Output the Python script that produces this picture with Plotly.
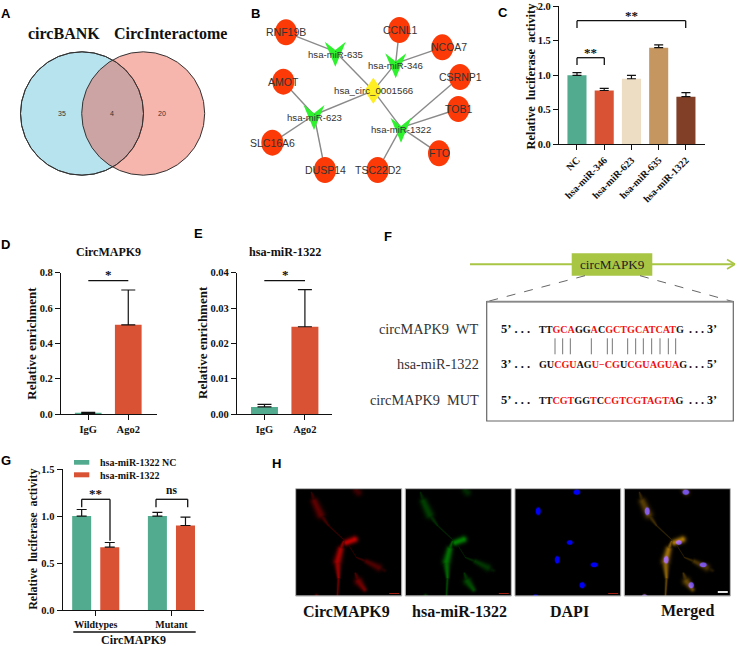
import numpy as np
import plotly.graph_objects as go

W, H = 738, 646
SERIF = "Liberation Serif"
SANS = "Liberation Sans"
GREEN, RED, CREAM, TAN, BROWN = "#52AB8E", "#D95234", "#EDDDC3", "#C59660", "#813F27"

# ---- panel C
c_labels = ["NC", "hsa-miR-346", "hsa-miR-623", "hsa-miR-635", "hsa-miR-1322"]
c_values = [1.0, 0.78, 0.95, 1.40, 0.69]
c_errors = [0.04, 0.03, 0.05, 0.04, 0.06]
c_colors = [GREEN, RED, CREAM, TAN, BROWN]
# ---- panel D
d_labels = ["IgG", "Ago2"]
d_values = [0.003, 0.505]
d_errors = [0.006, 0.197]
# ---- panel E
e_values = [0.002, 0.0247]
e_errors = [0.0007, 0.0105]
# ---- panel G
g_labels = ["Wildtypes", "Mutant"]
g_nc = [1.0, 1.0]
g_nc_err = [0.07, 0.04]
g_mir = [0.67, 0.90]
g_mir_err = [0.05, 0.09]
# ---- panel A
venn_counts = [35, 4, 20]
# ---- panel B (positions in the 3x crop frame)
targets = {"RNF19B": (138, 97), "CCNL1": (478, 90), "NCOA7": (607, 142), "CSRNP1": (660, 231),
           "TOB1": (655, 327), "FTO": (597, 460), "TSC22D2": (413, 510), "DUSP14": (255, 510),
           "SLC16A6": (97, 428), "AMOT": (130, 245)}
target_labels = {"RNF19B": (139, 97), "CCNL1": (482, 90), "NCOA7": (627, 142), "CSRNP1": (660, 231),
                 "TOB1": (655, 327), "FTO": (598, 460), "TSC22D2": (413, 510), "DUSP14": (255, 510),
                 "SLC16A6": (96, 428), "AMOT": (130, 245)}
mirnas = {"hsa-miR-635": (286, 155), "hsa-miR-346": (467, 190), "hsa-miR-623": (222, 345), "hsa-miR-1322": (483, 383)}
hub_name = "hsa_circ_0001566"
hub_pos = (400, 272)
edges = [("RNF19B", "hsa-miR-635"), ("hsa-miR-635", hub_name), ("CCNL1", "hsa-miR-346"), ("NCOA7", "hsa-miR-346"),
         ("hsa-miR-346", hub_name), ("AMOT", "hsa-miR-623"), ("SLC16A6", "hsa-miR-623"), ("DUSP14", "hsa-miR-623"),
         ("hsa-miR-623", hub_name), (hub_name, "hsa-miR-1322"), ("CSRNP1", "hsa-miR-1322"), ("TOB1", "hsa-miR-1322"),
         ("FTO", "hsa-miR-1322"), ("TSC22D2", "hsa-miR-1322")]
# ---- panel F
seq_wt = [("TT", 0), ("GCA", 1), ("GG", 0), ("A", 1), ("C", 0), ("GCT", 1), ("GCATCAT", 1), ("G", 0)]
seq_mir = [("GU", 0), ("CGU", 1), ("AG", 0), ("U\u2212CG", 1), ("U", 0), ("CGUAGUA", 1), ("G", 0)]
seq_mut = [("TT", 0), ("CGT", 1), ("GG", 0), ("T", 1), ("C", 0), ("CGT", 1), ("CGTAGTA", 1), ("G", 0)]
pair_marks = [555, 578, 601, 664, 712, 727, 773, 797, 820, 845, 870, 895, 917]
# ---- panel H (cell outlines: x0, y0, x1, y1, width0, width1, brightness)
cell_parts = [(15, 3, 18, 12, .6, 2.2, .30), (18, 12, 24, 25, 2.6, 3, .5), (24, 25, 32, 36, 2.1, .7, .35), (32, 36, 47, 50, .6, .4, .28),
              (50, 53, 58, 50, 2.3, 2.4, 1.0), (47, 52, 44, 60, .8, 1.8, .7), (44, 60, 41, 72, 2.3, 2.8, .9), (41, 72, 42, 88, 2.6, 1.2, .8),
              (42, 88, 41, 106, 1, .7, .55), (53, 57, 60, 68, .4, .4, .22), (60, 68, 70, 72, .5, 1.2, .3), (70, 72, 82, 78, 1.7, 2.6, .42),
              (82, 78, 88, 81, 2.6, 1.2, .2), (59, 84, 62, 92, .8, 2.6, .4), (62, 92, 68, 100, 2.8, 1.7, .6), (60, 1, 62, 3, 2.6, 2.6, .32),
              (20, 106, 21, 107, 1.2, 1.2, .5)]
nuclei = [(22.7, 21.7, 2.4, 3.7), (54.3, 53, 2.8, 2.2), (41.7, 70.3, 2.3, 3.6), (78.7, 75.3, 3.4, 2.3),
          (66.7, 95.7, 2.6, 2.9), (61.3, 2.7, 3.2, 2.5), (20, 107, 2.6, 2)]
h_labels = ["CircMAPK9", "hsa-miR-1322", "DAPI", "Merged"]


def px(z, origin=240):
    return origin + z / 3


def xd(a, b):
    return [a / W, b / W]


def yd(top, bottom):
    return [1 - bottom / H, 1 - top / H]


annotations, shapes = [], []


def text(x, y, s, size=11, family=SERIF, bold=False, color="#111", anchor="center", angle=0):
    annotations.append(dict(x=x, y=y, xref="x", yref="y", text=f"<b>{s}</b>" if bold else s, showarrow=False,
                            xanchor=anchor, yanchor="middle", textangle=angle,
                            font=dict(family=family, size=size, color=color)))


def line(x0, y0, x1, y1, color="#111", width=1.3, dash=None):
    shapes.append(dict(type="line", x0=x0, y0=y0, x1=x1, y1=y1, xref="x", yref="y",
                       line=dict(color=color, width=width, dash=dash or "solid")))


def poly(points, fill):
    path = "M" + " L".join(f"{a:.1f},{b:.1f}" for a, b in points) + " Z"
    shapes.append(dict(type="path", path=path, xref="x", yref="y", fillcolor=fill, line=dict(width=0)))


def ellipse(cx, cy, rx, ry, fill=None, edge=None, width=1):
    shapes.append(dict(type="circle", x0=cx - rx, x1=cx + rx, y0=cy - ry, y1=cy + ry, xref="x", yref="y",
                       fillcolor=fill or "rgba(0,0,0,0)", line=dict(color=edge or "rgba(0,0,0,0)", width=width if edge else 0)))


fig = go.Figure()

# panel letters
for s, x, y in [("A", 6, 13), ("B", 255, 13), ("C", 503, 12), ("D", 5, 244), ("E", 198, 233), ("F", 388, 236), ("G", 6, 460), ("H", 276, 463)]:
    text(x, y, s, size=13, family=SANS, bold=True, color="#000")

# ---------- A: Venn
text(64, 33, "circBANK", 16, bold=True)
text(170.5, 33, "CircInteractome", 16, bold=True)
ellipse(82, 113.5, 61.5, 61.7, "#B7E3EF", "#333")
ellipse(143.2, 113.5, 61.5, 61.7, "rgba(232,70,50,0.4)", "#333")
ellipse(82, 113.5, 61.5, 61.7, None, "#333")
for x, n in zip([62, 112.3, 162.3], venn_counts):
    text(x, 113.7, str(n), 7, SANS, color="#333")

# ---------- B: network
node_xy = {**targets, **mirnas, hub_name: hub_pos}
ex, ey = [], []
for a, b in edges:
    ex += [px(node_xy[a][0]), px(node_xy[b][0]), None]
    ey += [node_xy[a][1] / 3, node_xy[b][1] / 3, None]
fig.add_trace(go.Scatter(x=ex, y=ey, mode="lines", line=dict(color="#8A8A8A", width=1.4), hoverinfo="skip",
                         showlegend=False, xaxis="x", yaxis="y"))
for name, (a, b) in targets.items():
    ellipse(px(a), b / 3, 11, 13, "#FB3A08")
for name, (a, b) in mirnas.items():
    cx, cy = px(a), b / 3
    poly([(cx - 10.5, cy - 10), (cx, cy - 1.7), (cx + 10.5, cy - 10), (cx, cy + 15)], "#2DF22D")
hx, hy = px(hub_pos[0]), hub_pos[1] / 3
poly([(hx - 9, hy), (hx, hy - 13), (hx + 9, hy), (hx, hy + 13)], "#FFEE22")
for name, (a, b) in target_labels.items():
    text(px(a), b / 3, name, 10.5, SANS, color="#333")
for name, (a, b) in mirnas.items():
    text(px(a), (b + (7 if "1322" not in name and "623" not in name else 6)) / 3, name, 9.6, SANS, color="#333")
text(hx, hy, hub_name, 9.7, SANS, color="#333")

# ---------- bar charts
fig.add_trace(go.Bar(x=c_labels, y=c_values, marker=dict(color=c_colors, line=dict(width=0)), width=0.7,
                     error_y=dict(type="data", symmetric=False, array=c_errors, arrayminus=[0] * 5, color="#111", thickness=1.2, width=4.5),
                     showlegend=False, xaxis="x2", yaxis="y2"))
fig.add_trace(go.Bar(x=d_labels, y=d_values, marker=dict(color=[GREEN, RED], line=dict(width=0)), width=0.667,
                     error_y=dict(type="data", symmetric=False, array=d_errors, arrayminus=[0, 0], color="#111", thickness=1.2, width=7),
                     showlegend=False, xaxis="x3", yaxis="y3"))
fig.add_trace(go.Bar(x=d_labels, y=e_values, marker=dict(color=[GREEN, RED], line=dict(width=0)), width=0.667,
                     error_y=dict(type="data", symmetric=False, array=e_errors, arrayminus=[0, 0], color="#111", thickness=1.2, width=7),
                     showlegend=False, xaxis="x4", yaxis="y4"))
fig.add_trace(go.Bar(x=g_labels, y=g_nc, name="hsa-miR-1322 NC", marker=dict(color=GREEN, line=dict(width=0)), width=0.251, offset=-0.311,
                     error_y=dict(type="data", symmetric=False, array=g_nc_err, arrayminus=[0, 0], color="#111", thickness=1.2, width=5),
                     showlegend=False, xaxis="x5", yaxis="y5"))
fig.add_trace(go.Bar(x=g_labels, y=g_mir, name="hsa-miR-1322", marker=dict(color=RED, line=dict(width=0)), width=0.251, offset=0.06,
                     error_y=dict(type="data", symmetric=False, array=g_mir_err, arrayminus=[0, 0], color="#111", thickness=1.2, width=5),
                     showlegend=False, xaxis="x5", yaxis="y5"))

# C annotations
text(530.7, 75.8, "Relative\u00a0\u00a0luciferase\u00a0\u00a0activity", 12.4, bold=True, angle=-90)
line(577, 28, 577, 20.7); line(577, 20.7, 685.7, 20.7); line(685.7, 20.7, 685.7, 28)
text(631.3, 15, "**", 13, bold=True)
line(577, 65, 577, 57.7); line(577, 57.7, 604.3, 57.7); line(604.3, 57.7, 604.3, 65)
text(590.7, 52, "**", 13, bold=True)
# D annotations
text(108, 251.7, "CircMAPK9", 12, bold=True)
text(108, 274, "*", 13, bold=True)
line(88.3, 280.7, 128.3, 280.7)
text(30.7, 343, "Relative enrichment", 13, bold=True, angle=-90)
# E annotations
text(285, 251.7, "hsa-miR-1322", 12.2, bold=True)
text(285, 274, "*", 13, bold=True)
line(264.3, 280.7, 305, 280.7)
text(202, 343, "Relative enrichment", 13, bold=True, angle=-90)
# G annotations
text(32.3, 539.5, "Relative\u00a0\u00a0luciferase\u00a0\u00a0activity", 12, bold=True, angle=-90)
shapes.append(dict(type="rect", x0=74, x1=89.3, y0=460, y1=464.7, xref="x", yref="y", fillcolor=GREEN, line=dict(width=0)))
shapes.append(dict(type="rect", x0=74, x1=89.3, y0=472.3, y1=477.3, xref="x", yref="y", fillcolor=RED, line=dict(width=0)))
text(97.7, 462.7, "hsa-miR-1322 NC", 10, bold=True, anchor="left")
text(97.7, 475.7, "hsa-miR-1322", 10, bold=True, anchor="left")
line(81.7, 507.3, 81.7, 499.3); line(81.7, 499.3, 110, 499.3); line(110, 499.3, 110, 540.7)
text(95.7, 493, "**", 13, bold=True)
line(156, 507.3, 156, 499.3); line(156, 499.3, 187.7, 499.3); line(187.7, 499.3, 187.7, 507.3)
text(171.7, 490, "ns", 11.5, bold=True)
line(73.3, 632, 195.7, 632)
text(133.3, 640.3, "CircMAPK9", 12, bold=True)

# ---------- F: schematic
LIME = "#A9C544"
line(470, 264.3, 733, 264.3, LIME, 2)
line(727, 259.5, 735, 264.3, LIME, 1.6); line(727, 269, 735, 264.3, LIME, 1.6)
shapes.append(dict(type="rect", x0=571.7, x1=652.3, y0=253.3, y1=275.7, xref="x", yref="y", fillcolor=LIME, line=dict(width=0)))
text(612, 264, "circMAPK9", 13.2, color="#222")
line(585, 275.7, 486.7, 301.7, "#555", 0.9, "dash"); line(640, 275.7, 733.3, 301.7, "#555", 0.9, "dash")
shapes.append(dict(type="rect", x0=486.7, x1=733.3, y0=301.7, y1=421, xref="x", yref="y", line=dict(color="#666", width=1.2)))
line(486.7, 301.7, 733.3, 301.7, "#888", 1.8)
for s, y in [("circMAPK9\u00a0\u00a0WT", 329), ("hsa-miR-1322", 364.3), ("circMAPK9\u00a0\u00a0MUT", 400)]:
    text(481, y, s, 14.3, color="#333", anchor="right")
for runs, y, a, b in [(seq_wt, 329, "5\u2019", "3\u2019"), (seq_mir, 364.3, "3\u2019", "5\u2019"), (seq_mut, 400, "5\u2019", "3\u2019")]:
    text(498.5, y, a + "\u00a0. . .", 12.5, bold=True, anchor="left")
    seq = "".join(f'<span style="color:#F01010">{t}</span>' if r else t for t, r in runs)
    text(536.5, y, seq, 10.1, bold=True, anchor="left")
    text(719, y, ". . .\u00a0" + b, 12, bold=True, anchor="right")
for m in pair_marks:
    line(370 + m / 3, 338.3, 370 + m / 3, 354.3, "#666", 0.9)

# ---------- H: micrographs
IH, IW = 107, 106
yy, xx = np.mgrid[0:IH, 0:IW].astype(float)
cells = np.zeros((IH, IW))
for x0, y0, x1, y1, w0, w1, a in cell_parts:
    dx, dy = x1 - x0, y1 - y0
    t = np.clip(((xx - x0) * dx + (yy - y0) * dy) / (dx * dx + dy * dy), 0, 1)
    d2 = (xx - x0 - t * dx) ** 2 + (yy - y0 - t * dy) ** 2
    w = w0 + (w1 - w0) * t
    cells = np.maximum(cells, a * np.exp(-d2 / (2 * w * w)))
nuc = np.zeros((IH, IW))
for cx, cy, rx, ry in nuclei:
    nuc = np.maximum(nuc, np.clip(1.6 * np.exp(-(((xx - cx) / rx) ** 2 + ((yy - cy) / ry) ** 2) ** 2), 0, 1))


def stack(r, g, b):
    return np.clip(np.dstack([r, g, b]), 0, 255).astype(np.uint8).tolist()


images = [stack(cells * 185, cells * 0, cells * 0),
          stack(cells * 0, cells * 125, cells * 0),
          stack(nuc * 0, nuc * 0, nuc * 245),
          stack(cells * 170 * (1 - .5 * nuc) + nuc * 95, cells * 120 * (1 - .6 * nuc) + nuc * 70, nuc * 225 + cells * 10)]
h_edges = [(295.7, 401.7), (405.3, 511.3), (515, 620.7), (624.3, 730.3)]
layout_extra = {}
for i, (img, (x0, x1)) in enumerate(zip(images, h_edges)):
    n = 6 + i
    fig.add_trace(go.Image(z=img, colormodel="rgb", hoverinfo="skip", xaxis=f"x{n}", yaxis=f"y{n}"))
    layout_extra[f"xaxis{n}"] = dict(domain=xd(x0, x1), range=[-0.5, IW - 0.5], visible=False, anchor=f"y{n}", automargin=False)
    layout_extra[f"yaxis{n}"] = dict(domain=yd(488.7, 596), range=[IH - 0.5, -0.5], visible=False, anchor=f"x{n}", automargin=False)
    shapes.append(dict(type="rect", x0=x0, x1=x1, y0=488.7, y1=596, xref="x", yref="y", line=dict(color="#AAA", width=1)))
    bar_col, bar_w = ("#FFFFFF", 1.8) if i == 3 else ("#A01E12", 1)
    line(x1 - 12.5, 592 if i == 3 else 593.5, x1 - 2.5, 592 if i == 3 else 593.5, bar_col, bar_w)
for s, x in zip(h_labels, [346.7, 459.3, 569, 687.3]):
    text(x, 611, s, 16, bold=True)


def axis_x(a, b, rng, n, size=10.5, **kw):
    return dict(domain=xd(a, b), range=rng, anchor=f"y{n}", showgrid=False, zeroline=False, showline=True, linecolor="#111", linewidth=1.3,
                ticks="outside", ticklen=5, tickwidth=1.3, tickcolor="#111", type="category", automargin=False,
                tickfont=dict(family=SERIF, size=size, color="#111", weight=700), **kw)


def axis_y(top, bottom, rng, ticks, fmt, n):
    return dict(domain=yd(top, bottom), range=rng, anchor=f"x{n}", tickvals=ticks, tickformat=fmt, showgrid=False, zeroline=False,
                showline=True, linecolor="#111", linewidth=1.3, ticks="outside", ticklen=5, tickwidth=1.3, tickcolor="#111", automargin=False,
                tickfont=dict(family=SERIF, size=10.5, color="#111", weight=700))


fig.update_layout(
    width=W, height=H, margin=dict(l=0, r=0, t=0, b=0), paper_bgcolor="white", plot_bgcolor="rgba(0,0,0,0)",
    barmode="overlay", showlegend=False,
    xaxis=dict(domain=[0, 1], range=[0, W], visible=False, fixedrange=True, automargin=False),
    yaxis=dict(domain=[0, 1], range=[H, 0], visible=False, fixedrange=True, automargin=False),
    xaxis2=axis_x(559, 705, [-0.66, 4.7], 2, size=10, tickangle=-45),
    yaxis2=axis_y(6.3, 144.3, [0, 2], [0, .5, 1, 1.5, 2], ".1f", 2),
    xaxis3=axis_x(61, 156.7, [-0.68, 1.71], 3),
    yaxis3=axis_y(272.7, 414, [0, 0.8], [0, .2, .4, .6, .8], ".1f", 3),
    xaxis4=axis_x(237, 332, [-0.68, 1.67], 4),
    yaxis4=axis_y(272.7, 414, [0, 0.04], [0, .01, .02, .03, .04], ".2f", 4),
    xaxis5=axis_x(62.7, 204, [-0.436, 1.43], 5, size=10),
    yaxis5=axis_y(469, 610.3, [0, 1.5], [0, .5, 1, 1.5], ".1f", 5),
    annotations=annotations, shapes=shapes, **layout_extra)

fig.write_html("out.html", config={"displayModeBar": False},
               post_script="document.body.style.margin='0';document.documentElement.style.overflow='hidden';")
